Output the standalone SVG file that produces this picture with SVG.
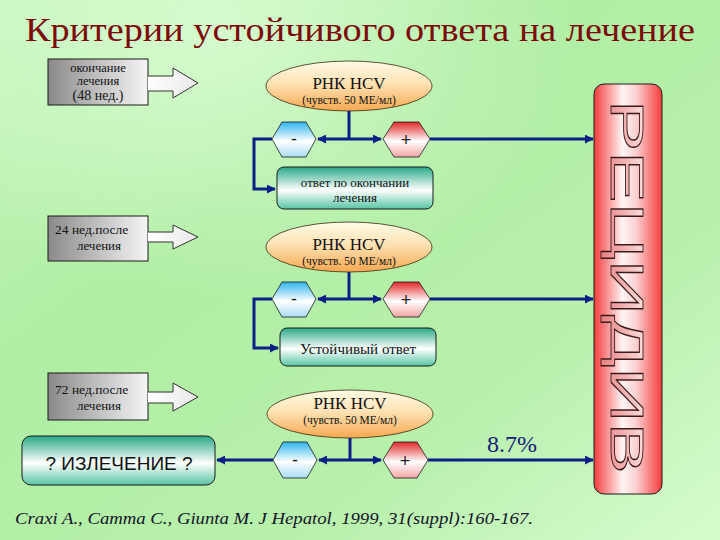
<svg xmlns="http://www.w3.org/2000/svg" width="720" height="540" viewBox="0 0 720 540">
<defs>
  <linearGradient id="bg" x1="0" y1="0" x2="1" y2="1">
    <stop offset="0" stop-color="#c6f6bc"/>
    <stop offset="0.35" stop-color="#b0eea4"/>
    <stop offset="0.7" stop-color="#b8f0ac"/>
    <stop offset="1" stop-color="#d6fcce"/>
  </linearGradient>
  <radialGradient id="glow" cx="0.3" cy="0.05" r="0.5">
    <stop offset="0" stop-color="#e2ffdc" stop-opacity="0.7"/>
    <stop offset="1" stop-color="#e2ffdc" stop-opacity="0"/>
  </radialGradient>
  <linearGradient id="gray" x1="0" y1="0" x2="1" y2="0">
    <stop offset="0" stop-color="#8a8a8a"/>
    <stop offset="1" stop-color="#f6f6f6"/>
  </linearGradient>
  <linearGradient id="arrowfill" x1="0" y1="0" x2="1" y2="0">
    <stop offset="0" stop-color="#ffffff"/>
    <stop offset="1" stop-color="#e8e8e8"/>
  </linearGradient>
  <linearGradient id="ell" x1="0" y1="0" x2="0" y2="1">
    <stop offset="0" stop-color="#fffbe6"/>
    <stop offset="0.45" stop-color="#fde2b4"/>
    <stop offset="1" stop-color="#f6a850"/>
  </linearGradient>
  <linearGradient id="blue" x1="0" y1="0" x2="0" y2="1">
    <stop offset="0" stop-color="#2fb4ee"/>
    <stop offset="0.55" stop-color="#ffffff"/>
    <stop offset="1" stop-color="#a8dcf6"/>
  </linearGradient>
  <linearGradient id="red" x1="0" y1="0" x2="0" y2="1">
    <stop offset="0" stop-color="#e02828"/>
    <stop offset="0.55" stop-color="#ffffff"/>
    <stop offset="1" stop-color="#f4a4a4"/>
  </linearGradient>
  <linearGradient id="teal" x1="0" y1="0" x2="0" y2="1">
    <stop offset="0" stop-color="#2aa886"/>
    <stop offset="0.55" stop-color="#ffffff"/>
    <stop offset="1" stop-color="#58c4a4"/>
  </linearGradient>
  <linearGradient id="col" x1="0" y1="0" x2="1" y2="0">
    <stop offset="0" stop-color="#f43c3c"/>
    <stop offset="0.42" stop-color="#fff4f4"/>
    <stop offset="0.62" stop-color="#fcd0d0"/>
    <stop offset="1" stop-color="#f43c3c"/>
  </linearGradient>
  <linearGradient id="word" x1="0" y1="0" x2="0" y2="1">
    <stop offset="0" stop-color="#fff0f0"/>
    <stop offset="1" stop-color="#e88080"/>
  </linearGradient>
  <marker id="ah" viewBox="0 0 10 10" refX="9" refY="5" markerWidth="3" markerHeight="3" orient="auto-start-reverse" markerUnits="strokeWidth">
    <path d="M0,0 L10,5 L0,10 z" fill="#0b1f86"/>
  </marker>
</defs>
<style>
  .gbox{fill:url(#gray);stroke:#1a1a1a;stroke-width:1}
  .arr{fill:url(#arrowfill);stroke:#333;stroke-width:1}
  .ell{fill:url(#ell);stroke:#3a2a10;stroke-width:0.8}
  .hexm{fill:url(#blue);stroke:#1a1a1a;stroke-width:0.8}
  .hexp{fill:url(#red);stroke:#1a1a1a;stroke-width:0.8}
  .tbox{fill:url(#teal);stroke:#1a1a1a;stroke-width:1}
  .ser{font-family:"Liberation Serif","Times New Roman",serif;fill:#111}
  .t13{font-size:13px}
  .t11{font-size:11.5px}
  .sign{font-family:"Liberation Sans",Arial,sans-serif;font-size:18px;fill:#222}
  .con{fill:none;stroke:#0b1f86;stroke-width:3}
</style>
<rect x="0" y="0" width="720" height="540" fill="url(#bg)"/>
<rect x="0" y="0" width="720" height="540" fill="url(#glow)"/>

<text id="title" x="25" y="41" font-family="Liberation Serif,Times New Roman,serif" font-size="34" fill="#7c0a0a" textLength="670" lengthAdjust="spacingAndGlyphs">Критерии устойчивого ответа на лечение</text>

<g id="box48">
  <rect class="gbox" x="48" y="59" width="100" height="46"/>
  <path class="arr" d="M148,76 L173,76 L173,68 L198,83 L173,98 L173,91 L148,91"/>
  <text class="ser" text-anchor="middle" font-size="12.5" x="98" y="72">окончание</text>
  <text class="ser" text-anchor="middle" font-size="12.5" x="98" y="85">лечения</text>
  <text class="ser" text-anchor="middle" font-size="14" x="98" y="100">(48 нед.)</text>
</g>
<g id="box24">
  <rect class="gbox" x="48" y="216" width="100" height="45"/>
  <path class="arr" d="M148,232 L173,232 L173,225 L198,237 L173,249 L173,242 L148,242"/>
  <text class="ser" font-size="13.5" x="55" y="234">24 нед.после</text>
  <text class="ser" text-anchor="middle" font-size="13" x="99" y="250">лечения</text>
</g>
<g id="box72">
  <rect class="gbox" x="48" y="373" width="100" height="47"/>
  <path class="arr" d="M148,392 L173,392 L173,383 L198,397 L173,411 L173,403 L148,403"/>
  <text class="ser" font-size="13.5" x="55" y="394">72 нед.после</text>
  <text class="ser" text-anchor="middle" font-size="13" x="99" y="410">лечения</text>
</g>

<g id="ell1">
  <ellipse class="ell" cx="349" cy="86" rx="83" ry="25"/>
  <text font-family="Liberation Serif,Times New Roman,serif" font-size="17" fill="#111" text-anchor="middle" x="349" y="89">РНК HCV</text>
  <text class="ser t11" text-anchor="middle" x="349" y="104">(чувств. 50 МЕ/мл)</text>
</g>
<g id="ell2">
  <ellipse class="ell" cx="349" cy="247" rx="83" ry="25"/>
  <text font-family="Liberation Serif,Times New Roman,serif" font-size="17" fill="#111" text-anchor="middle" x="349" y="250">РНК HCV</text>
  <text class="ser t11" text-anchor="middle" x="349" y="265">(чувств. 50 МЕ/мл)</text>
</g>
<g id="ell3">
  <ellipse class="ell" cx="350" cy="414" rx="83" ry="24"/>
  <text font-family="Liberation Serif,Times New Roman,serif" font-size="17" fill="#111" text-anchor="middle" x="350" y="409">РНК HCV</text>
  <text class="ser t11" text-anchor="middle" x="350" y="424">(чувств. 50 МЕ/мл)</text>
</g>

<g id="neg1">
  <polygon class="hexm" points="272,139 282,122 306,122 316,139 306,157 282,157"/>
  <text class="sign" text-anchor="middle" x="294" y="145">-</text>
</g>
<g id="pos1">
  <polygon class="hexp" points="383,139 394,122 419,122 430,139 419,157 394,157"/>
  <text class="sign" text-anchor="middle" x="406" y="146">+</text>
</g>
<g id="neg2">
  <polygon class="hexm" points="272,299 282,282 306,282 316,299 306,317 282,317"/>
  <text class="sign" text-anchor="middle" x="294" y="305">-</text>
</g>
<g id="pos2">
  <polygon class="hexp" points="383,299 394,282 419,282 430,299 419,317 394,317"/>
  <text class="sign" text-anchor="middle" x="406" y="306">+</text>
</g>
<g id="neg3">
  <polygon class="hexm" points="273,460 283,442 307,442 317,460 307,478 283,478"/>
  <text class="sign" text-anchor="middle" x="295" y="466">-</text>
</g>
<g id="pos3">
  <polygon class="hexp" points="383,460 394,442 417,442 428,460 417,478 394,478"/>
  <text class="sign" text-anchor="middle" x="405" y="467">+</text>
</g>

<g id="resp1">
  <rect class="tbox" x="277" y="167" width="156" height="42" rx="7"/>
  <text class="ser t13" text-anchor="middle" x="355" y="187">ответ по окончании</text>
  <text class="ser t13" text-anchor="middle" x="355" y="202">лечения</text>
</g>
<g id="resp2">
  <rect class="tbox" x="280" y="328" width="156" height="38" rx="7"/>
  <text class="ser" font-size="15" text-anchor="middle" x="358" y="354">Устойчивый ответ</text>
</g>
<g id="cure">
  <rect class="tbox" x="22" y="436" width="193" height="49" rx="9"/>
  <text font-family="Liberation Sans,Arial,sans-serif" font-size="19" fill="#111" text-anchor="middle" x="119" y="470">? ИЗЛЕЧЕНИЕ ?</text>
</g>

<g id="relapse">
  <rect x="594" y="84" width="68" height="410" rx="10" fill="url(#col)" stroke="#1a1a1a" stroke-width="1"/>
  <text transform="translate(611,100) rotate(90)" x="0" y="0" font-family="Liberation Sans,Arial,sans-serif" font-size="46" fill="url(#word)" stroke="#3a1a1a" stroke-width="0.9" textLength="374" lengthAdjust="spacingAndGlyphs">РЕЦИДИВ</text>
</g>

<g id="connectors">
  <path class="con" d="M349,111 L349,139"/>
  <path class="con" d="M318,139 L381,139" marker-start="url(#ah)" marker-end="url(#ah)"/>
  <path class="con" d="M430,139 L593,139" marker-end="url(#ah)"/>
  <path class="con" d="M272,139 L254,139 L254,189 L275,189" marker-end="url(#ah)"/>

  <path class="con" d="M349,272 L349,299"/>
  <path class="con" d="M318,299 L381,299" marker-start="url(#ah)" marker-end="url(#ah)"/>
  <path class="con" d="M430,299 L593,299" marker-end="url(#ah)"/>
  <path class="con" d="M272,299 L254,299 L254,348 L278,348" marker-end="url(#ah)"/>

  <path class="con" d="M350,438 L350,460"/>
  <path class="con" d="M319,460 L381,460" marker-start="url(#ah)" marker-end="url(#ah)"/>
  <path class="con" d="M428,460 L593,460" marker-end="url(#ah)"/>
  <path class="con" d="M273,460 L217,460" marker-end="url(#ah)"/>
</g>

<text id="pct" x="487" y="452" font-family="Liberation Serif,Times New Roman,serif" font-size="24" fill="#16207a">8.7%</text>

<text id="cite" x="15" y="524" font-family="Liberation Serif,Times New Roman,serif" font-style="italic" font-size="16" fill="#14142a" textLength="518" lengthAdjust="spacingAndGlyphs">Craxi A., Camma C., Giunta M. J Hepatol, 1999, 31(suppl):160-167.</text>
</svg>
